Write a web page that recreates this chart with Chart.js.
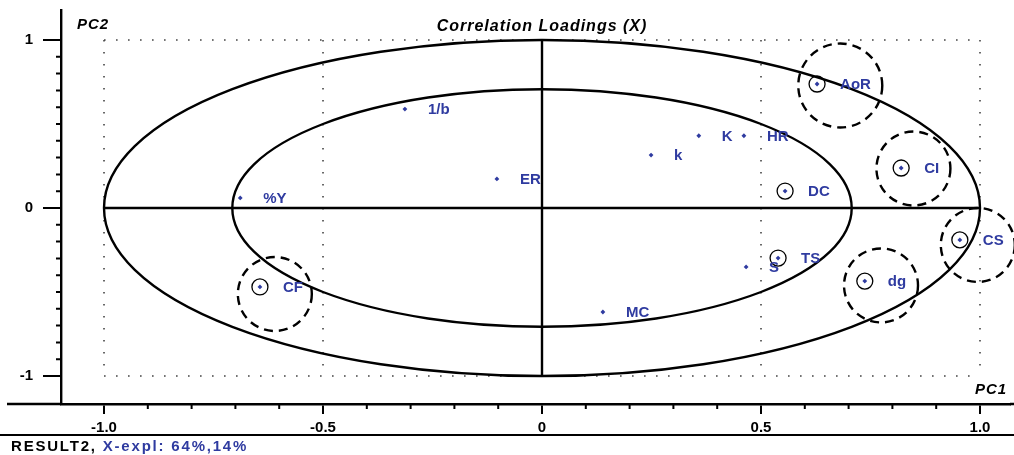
<!DOCTYPE html>
<html>
<head>
<meta charset="utf-8">
<script src="https://cdn.jsdelivr.net/npm/chart.js@4/dist/chart.umd.min.js"></script>
<style>
  html, body { margin: 0; padding: 0; background: #ffffff; }
  #wrap { width: 1014px; height: 455px; position: relative; }
</style>
</head>
<body>
<div id="wrap"><canvas id="c" width="1014" height="455"></canvas></div>
<script>
// ---- data ----
const varNames = ['1/b', 'ER', '%Y', 'CF', 'k', 'K', 'HR', 'AoR', 'CI', 'DC', 'CS', 'TS', 'S', 'dg', 'MC'];
const pc1 = [-0.313, -0.103, -0.689, -0.644, 0.249, 0.358, 0.461, 0.628, 0.820, 0.555, 0.954, 0.539, 0.466, 0.737, 0.139];
const pc2 = [0.589, 0.173, 0.060, -0.470, 0.315, 0.430, 0.430, 0.738, 0.238, 0.101, -0.190, -0.298, -0.351, -0.435, -0.619];

// variables marked with a small ring
const markedVars = ['AoR', 'CI', 'DC', 'CS', 'TS', 'dg', 'CF'];
// dashed group rings (centres in PC units)
const groupNames = ['AoR', 'CI', 'CS', 'dg', 'CF'];
const groupPC1 = [0.681, 0.848, 0.995, 0.774, -0.610];
const groupPC2 = [0.729, 0.235, -0.220, -0.461, -0.512];

// explained-variance circles (100% and 50%)
const circleRadii = [1.0, 0.7071];

const xMajorTicks = [-1, -0.5, 0, 0.5, 1];
const xTickLabels = ['-1.0', '-0.5', '0', '0.5', '1.0'];
const xMinorTicks = [-0.9, -0.8, -0.7, -0.6, -0.4, -0.3, -0.2, -0.1, 0.1, 0.2, 0.3, 0.4, 0.6, 0.7, 0.8, 0.9];
const yMajorTicks = [-1, 0, 1];
const yTickLabels = ['-1', '0', '1'];
const yMinorTicks = [-0.9, -0.8, -0.7, -0.6, -0.5, -0.4, -0.3, -0.2, -0.1, 0.1, 0.2, 0.3, 0.4, 0.5, 0.6, 0.7, 0.8, 0.9];
const gridX = [-1, -0.5, 0.5, 1];
const gridY = [-1, 1];

const titleText = 'Correlation Loadings (X)';
const xAxisName = 'PC1';
const yAxisName = 'PC2';
const footerA = 'RESULT2, ';
const footerB = 'X-expl: 64%,14%';

// ---- style ----
const BLUE = '#2f3ba0';
const FONT = '"Liberation Sans", Arial, sans-serif';

const decor = {
  id: 'decor',
  beforeDatasetsDraw(chart) {
    const {ctx, scales: {x, y}, chartArea: ca} = chart;
    const px = v => x.getPixelForValue(v);
    const py = v => y.getPixelForValue(v);
    ctx.save();
    // dotted grid
    ctx.strokeStyle = '#444';
    ctx.lineWidth = 1.6;
    ctx.setLineDash([1.6, 10.4]);
    gridX.forEach(v => {
      ctx.beginPath(); ctx.moveTo(px(v), py(1)); ctx.lineTo(px(v), py(-1)); ctx.stroke();
    });
    gridY.forEach(v => {
      ctx.beginPath(); ctx.moveTo(px(-1), py(v)); ctx.lineTo(px(1), py(v)); ctx.stroke();
    });
    ctx.setLineDash([]);
    // ellipses
    ctx.strokeStyle = '#000';
    ctx.lineWidth = 2.4;
    circleRadii.forEach(r => {
      ctx.beginPath();
      ctx.ellipse(px(0), py(0), px(r) - px(0), py(0) - py(r), 0, 0, Math.PI * 2);
      ctx.stroke();
    });
    // cross axes
    ctx.beginPath();
    ctx.moveTo(px(-1), py(0)); ctx.lineTo(px(1), py(0));
    ctx.moveTo(px(0), py(1)); ctx.lineTo(px(0), py(-1));
    ctx.stroke();
    // dashed group rings
    ctx.lineWidth = 2.4;
    ctx.setLineDash([9, 6]);
    groupNames.forEach((n, i) => {
      const r = n === 'AoR' ? 42 : 37;
      ctx.beginPath();
      ctx.arc(px(groupPC1[i]), py(groupPC2[i]), r, 0, Math.PI * 2);
      ctx.stroke();
    });
    ctx.setLineDash([]);
    // small rings
    ctx.lineWidth = 1.3;
    markedVars.forEach(n => {
      const i = varNames.indexOf(n);
      ctx.beginPath();
      ctx.arc(px(pc1[i]), py(pc2[i]), 8, 0, Math.PI * 2);
      ctx.stroke();
    });
    ctx.restore();
  },
  afterDatasetsDraw(chart) {
    const {ctx, scales: {x, y}, chartArea: ca} = chart;
    const px = v => x.getPixelForValue(v);
    const py = v => y.getPixelForValue(v);
    ctx.save();
    // variable labels
    ctx.fillStyle = BLUE;
    ctx.font = 'bold 15px ' + FONT;
    ctx.textBaseline = 'middle';
    ctx.textAlign = 'left';
    varNames.forEach((n, i) => {
      ctx.fillText(n, px(pc1[i]) + 23, py(pc2[i]) + 1);
    });
    // title and axis names
    ctx.fillStyle = '#000';
    ctx.font = 'italic bold 16px ' + FONT;
    ctx.letterSpacing = '1px';
    ctx.textAlign = 'center';
    ctx.fillText(titleText, px(0), 27);
    ctx.textAlign = 'left';
    ctx.font = 'italic bold 15px ' + FONT;
    ctx.letterSpacing = '1px';
    ctx.fillText(yAxisName, 77, 25);
    ctx.fillText(xAxisName, 975, 390);
    ctx.letterSpacing = '0px';
    // extra frame lines
    ctx.strokeStyle = '#000';
    ctx.lineWidth = 2.4;
    ctx.beginPath();
    ctx.moveTo(7, ca.bottom); ctx.lineTo(ca.left, ca.bottom);
    ctx.moveTo(ca.right, ca.bottom); ctx.lineTo(1014, ca.bottom);
    ctx.stroke();
    ctx.lineWidth = 2;
    ctx.beginPath();
    ctx.moveTo(0, 435); ctx.lineTo(1014, 435);
    ctx.stroke();
    // minor ticks
    ctx.lineWidth = 2;
    ctx.beginPath();
    xMinorTicks.forEach(v => { ctx.moveTo(px(v), ca.bottom); ctx.lineTo(px(v), ca.bottom + 5); });
    yMinorTicks.forEach(v => { ctx.moveTo(ca.left - 5, py(v)); ctx.lineTo(ca.left, py(v)); });
    ctx.stroke();
    // footer
    ctx.font = 'bold 15px ' + FONT;
    ctx.letterSpacing = '1.8px';
    ctx.textBaseline = 'middle';
    ctx.fillStyle = '#000';
    ctx.fillText(footerA, 11, 447);
    const w = ctx.measureText(footerA).width;
    ctx.fillStyle = BLUE;
    ctx.fillText(footerB, 11 + w, 447);
    ctx.restore();
  }
};

new Chart(document.getElementById('c'), {
  type: 'scatter',
  data: {
    datasets: [{
      data: pc1.map((v, i) => ({x: v, y: pc2[i]})),
      pointStyle: 'rectRot',
      pointRadius: 2.4,
      backgroundColor: BLUE,
      borderColor: BLUE,
      borderWidth: 0
    }]
  },
  options: {
    responsive: false,
    animation: false,
    layout: { padding: { top: 10, right: 0, left: 0, bottom: 0 } },
    plugins: { legend: { display: false }, tooltip: { enabled: false }, title: { display: false } },
    scales: {
      x: {
        type: 'linear',
        min: -1.0982, max: 1.0685,
        afterBuildTicks: s => { s.ticks = xMajorTicks.map(v => ({value: v})); },
        afterFit: s => { s.height = 51; s.paddingLeft = 0; s.paddingRight = 0; },
        ticks: {
          autoSkip: false, maxRotation: 0, padding: 5,
          color: '#000',
          font: { family: FONT, size: 15, weight: 'bold' },
          callback: (v) => xTickLabels[xMajorTicks.indexOf(v)]
        },
        grid: { drawOnChartArea: false, drawTicks: true, tickLength: 10, color: '#000', lineWidth: 2 },
        border: { display: true, color: '#000', width: 2.4 }
      },
      y: {
        type: 'linear',
        min: -1.1667, max: 1.1786,
        afterBuildTicks: s => { s.ticks = yMajorTicks.map(v => ({value: v})); },
        afterFit: s => { s.width = 61; s.paddingTop = 0; s.paddingBottom = 0; },
        ticks: {
          autoSkip: false, padding: 10,
          color: '#000',
          font: { family: FONT, size: 15, weight: 'bold' },
          callback: (v) => yTickLabels[yMajorTicks.indexOf(v)]
        },
        grid: { drawOnChartArea: false, drawTicks: true, tickLength: 18, color: '#000', lineWidth: 2 },
        border: { display: true, color: '#000', width: 2.4 }
      }
    }
  },
  plugins: [decor]
});
</script>
</body>
</html>
